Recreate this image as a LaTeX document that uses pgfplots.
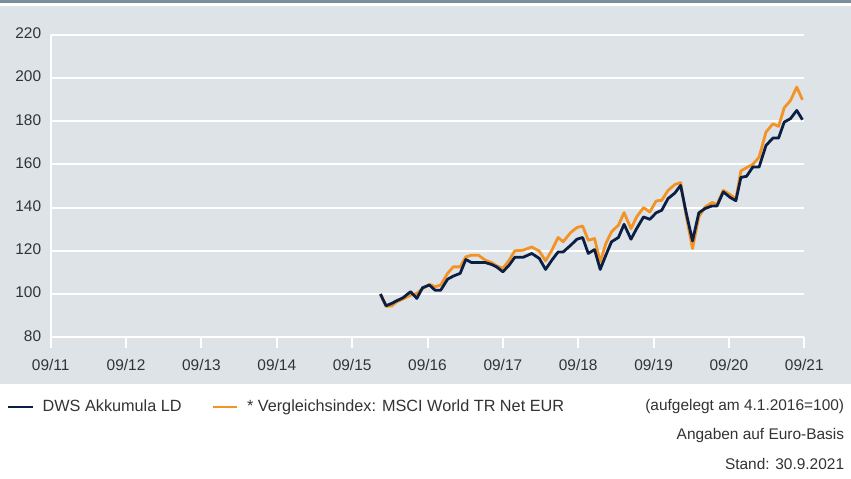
\documentclass[border=0pt]{standalone}
\usepackage{fontspec}
\setmainfont{Liberation Sans}
\usepackage{pgfplots}
\usepackage{pgfplotstable}
\pgfplotsset{compat=1.18}

\definecolor{bg}{HTML}{DDE3E7}
\definecolor{strip}{HTML}{7B8F9B}
\definecolor{navy}{HTML}{0B1F45}
\definecolor{dwsorange}{HTML}{F39325}
\definecolor{txt}{HTML}{333333}

% months since 09/2011, DWS Akkumula LD, MSCI World TR Net EUR (4.1.2016 = 100)
\pgfplotstableread{
m     fund   index
52.5  100.0  100.0
53.4   94.6   94.3
54.3   95.7   94.5
55.1   96.9   96.4
56.1   98.3   97.7
57.3  101.1   99.5
58.3   98.0  100.3
59.2  102.9  102.5
60.3  104.2  104.5
61.2  101.8  103.4
62.1  101.8  104.2
63.2  106.9  109.6
64.1  108.3  112.6
65.2  109.6  112.6
66.1  116.0  117.2
67.0  114.6  118.0
68.1  114.6  118.0
69.2  114.6  115.7
70.2  113.7  114.6
71.0  112.6  113.1
72.0  110.3  111.9
73.0  113.4  115.7
73.9  117.0  120.0
75.2  117.0  120.3
76.6  118.8  121.8
77.8  116.5  119.9
78.8  111.4  115.4
79.8  115.7  120.3
80.8  119.5  126.2
81.6  119.5  124.2
82.8  122.6  128.5
83.8  125.4  130.8
84.7  126.2  131.5
85.6  118.8  124.9
86.6  120.6  125.7
87.5  111.4  114.9
88.4  118.0  123.4
89.3  124.2  128.8
90.4  126.2  131.9
91.3  132.3  137.7
92.4  125.4  130.3
93.3  130.3  135.7
94.4  135.7  140.0
95.4  134.6  138.0
96.4  137.6  143.1
97.3  138.8  143.4
98.3  144.2  148.0
99.4  146.8  150.7
100.3 150.3  151.6
101.2 137.5  136.0
102.2 124.6  121.1
103.2 137.6  135.7
104.2 139.6  140.3
105.3 140.8  142.4
106.1 140.8  141.5
107.1 147.3  148.0
108.2 144.7  146.0
109.1 143.2  144.0
109.9 154.0  157.0
110.8 154.5  158.5
111.8 158.8  160.0
112.8 158.8  163.4
113.9 168.8  175.0
115.0 172.2  178.8
115.9 172.2  177.6
116.8 179.6  186.2
117.8 181.2  189.6
118.8 185.0  195.8
119.7 180.7  189.9
}\perf

\begin{document}
\begin{tikzpicture}[x=1bp,y=1bp,font=\fontsize{15.5}{18}\selectfont,text=txt]
\useasboundingbox (0,0) rectangle (851,479);
\fill[white] (0,0) rectangle (851,479);
\fill[strip] (0,475.7) rectangle (851,479);
\fill[bg] (0,95) rectangle (851,473);
\begin{axis}[
  at={(50.7bp,141.7bp)}, anchor=south west,
  scale only axis, width=753.6bp, height=302.5bp,
  xmin=0, xmax=120, ymin=80, ymax=220,
  axis x line=bottom, axis y line=left,
  axis line style={white, line width=2bp, -},
  xtick={0,12,...,120},
  xticklabels={09/11,09/12,09/13,09/14,09/15,09/16,09/17,09/18,09/19,09/20,09/21},
  ytick={80,100,...,220},
  ymajorgrids, grid style={white, line width=2bp},
  tick align=outside, major tick length=11bp,
  xtick style={white, line width=2bp},
  ytick style={draw=none},
  /pgf/number format/assume math mode=true,
  tick label style={font=\fontsize{15.5}{18}\selectfont, text=txt, inner sep=0pt},
  xticklabel style={anchor=base, yshift=-22.4bp},
  yticklabel style={anchor=east, xshift=1.6bp, yshift=1.5bp},
  legend style={at={(-0.0576,-0.2294)}, anchor=west, draw=none, fill=none,
    inner sep=0pt, outer sep=0pt, text=txt,
    font=\fontsize{16.3}{18}\selectfont,
    legend columns=2,
    /tikz/every odd column/.append style={column sep=7bp},
    /tikz/every even column/.append style={column sep=28bp}},
  legend image code/.code={\draw[#1, line width=2bp] (0bp,0bp) -- (24.4bp,0bp);},
]
\addlegendimage{navy}
\addlegendentry{DWS Akkumula LD}
\addlegendimage{dwsorange}
\addlegendentry{* Vergleichsindex: MSCI World TR Net EUR}
\addplot[dwsorange, line width=2.8bp, line join=round, forget plot] table[x=m, y=index] {\perf};
\addplot[navy, line width=2.8bp, line join=round, forget plot] table[x=m, y=fund] {\perf};
\end{axis}
\node[anchor=base east, inner sep=0pt] at (844.3,68) {(aufgelegt am 4.1.2016=100)};
\node[anchor=base east, inner sep=0pt] at (844.3,39) {Angaben auf Euro-Basis};
\node[anchor=base east, inner sep=0pt] at (844.3,9) {Stand: 30.9.2021};
\end{tikzpicture}
\end{document}
